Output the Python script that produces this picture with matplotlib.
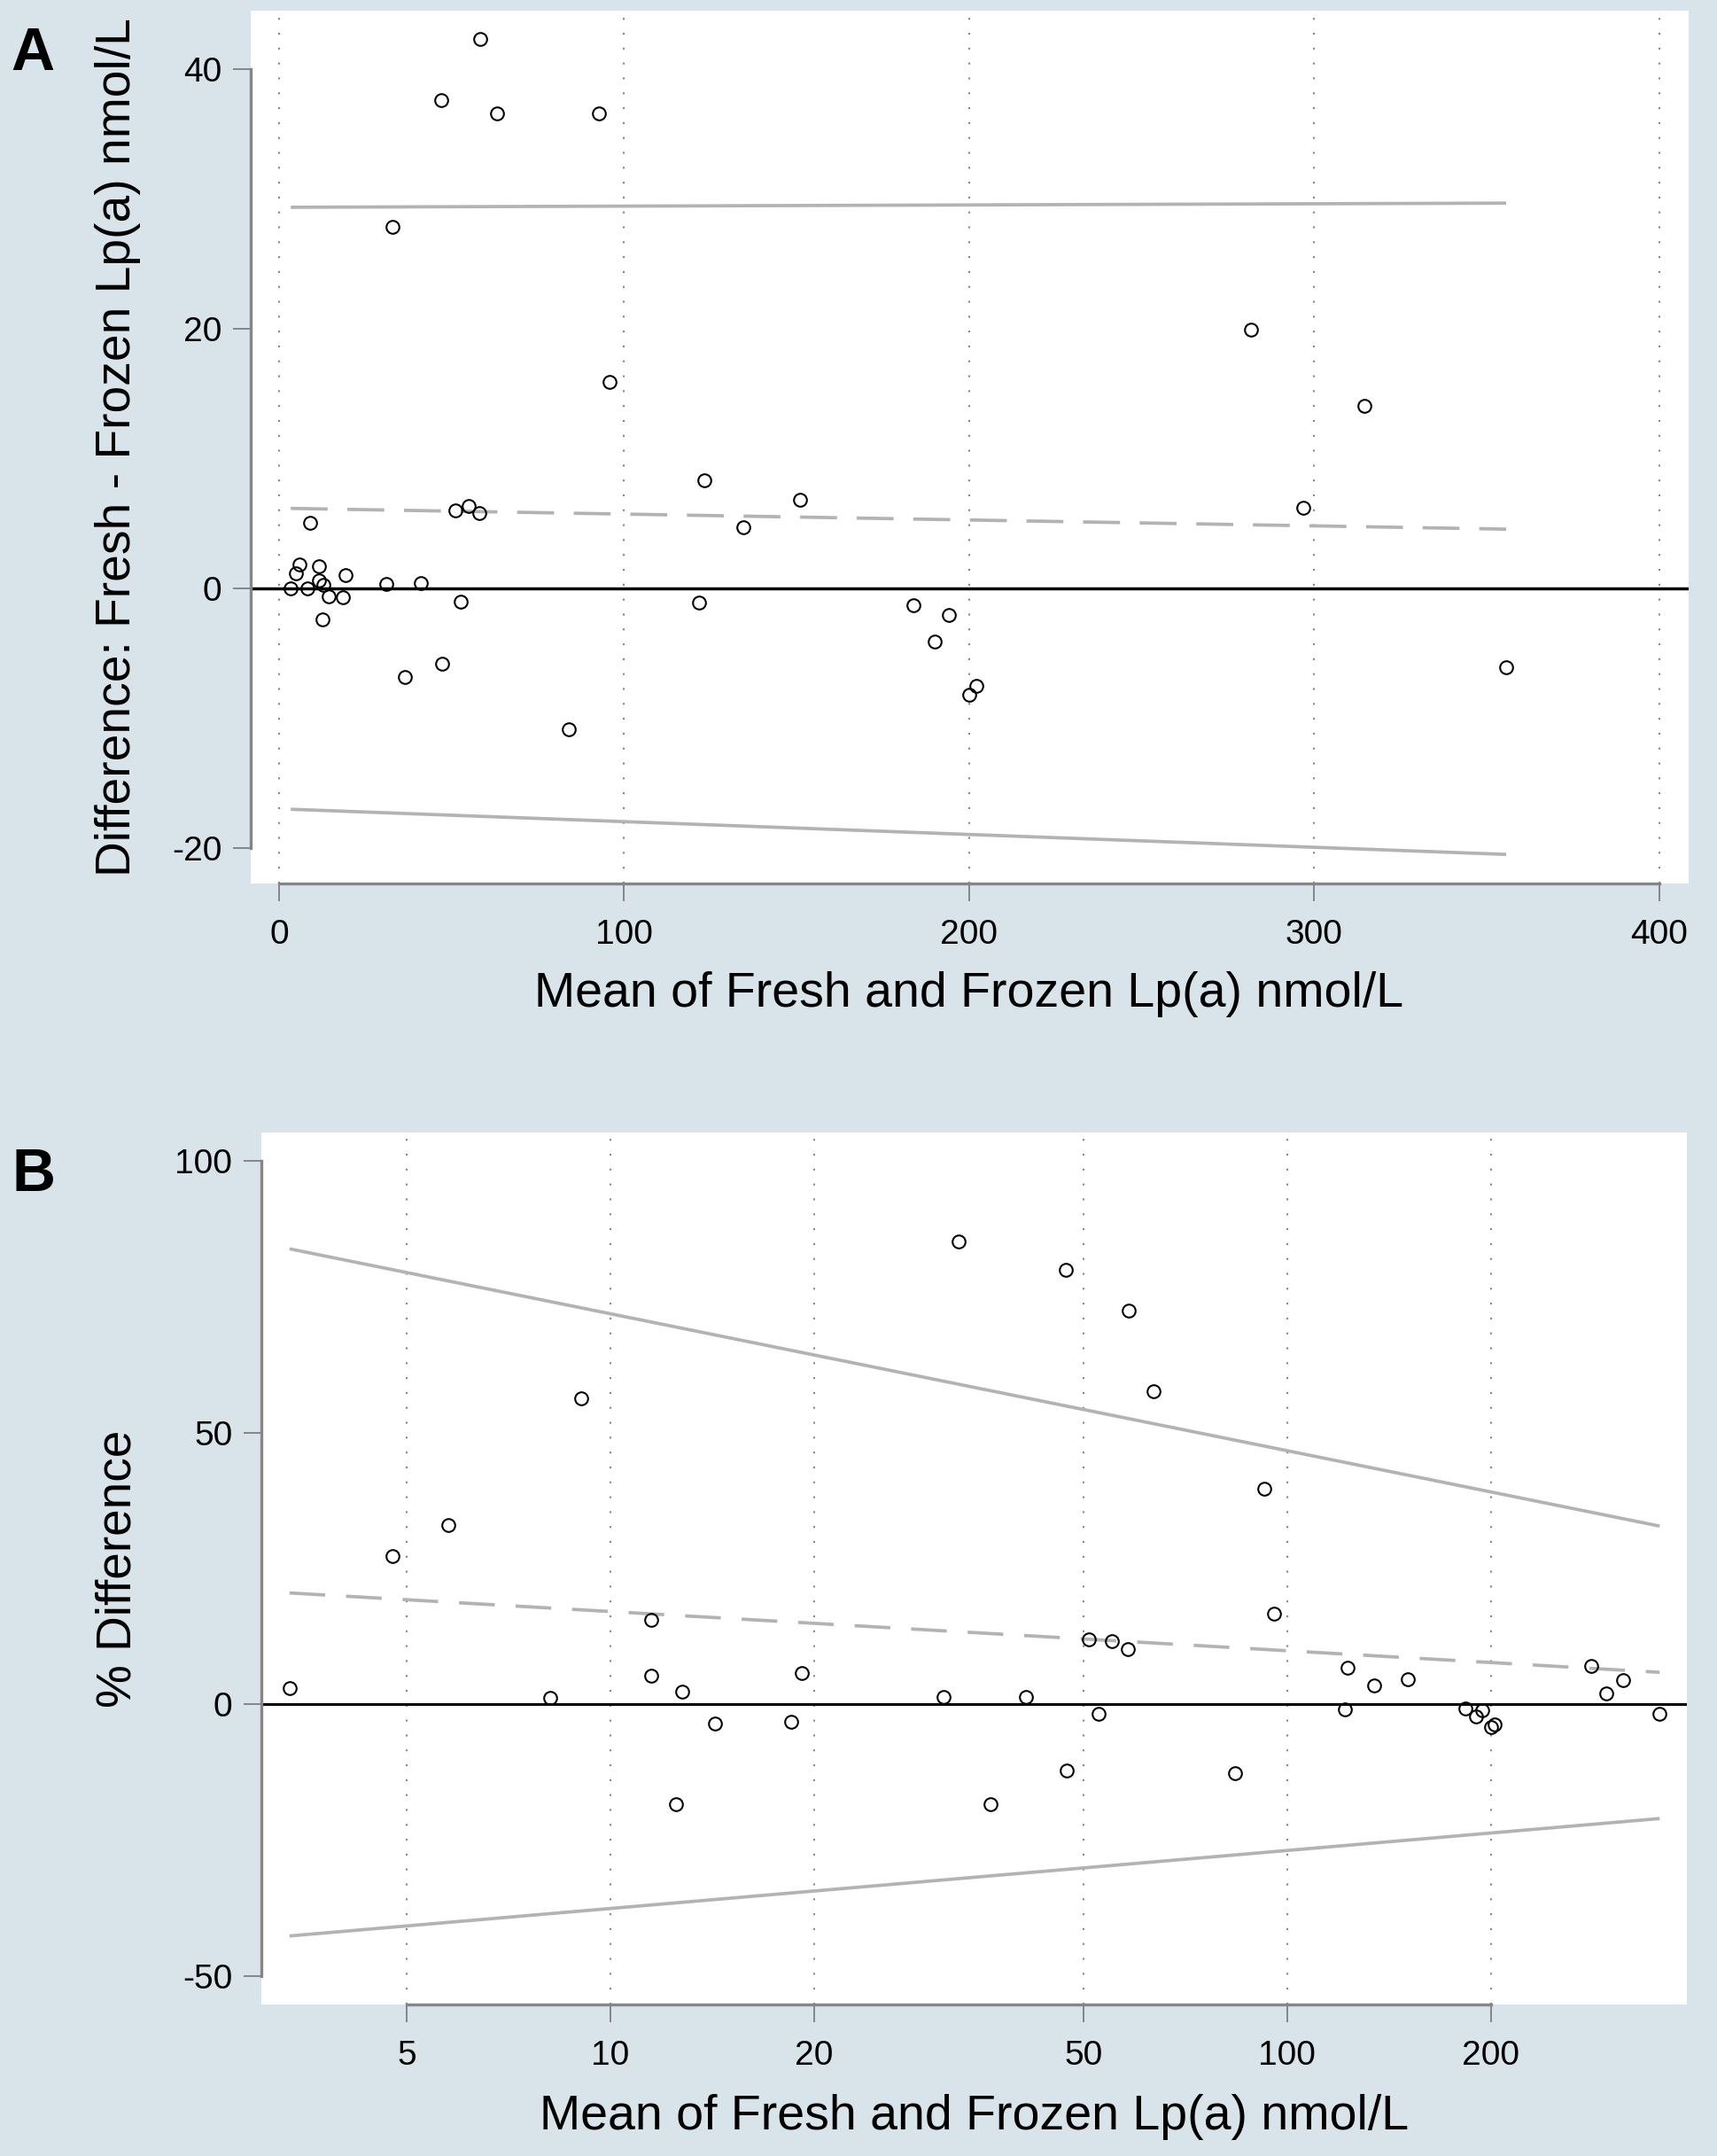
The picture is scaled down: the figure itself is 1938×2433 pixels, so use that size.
import matplotlib
matplotlib.use("Agg")
import matplotlib.pyplot as plt
from matplotlib.ticker import NullLocator, FixedLocator, FixedFormatter

plt.rcParams['font.family'] = ['Liberation Sans', 'DejaVu Sans']
plt.rcParams['lines.scale_dashes'] = False
plt.rcParams['axes.unicode_minus'] = False

# ---------------- Data: panel A (Bland-Altman, absolute difference) ----------------
mean_a = [58.4, 47.1, 63.3, 92.7, 32.9, 95.7,
          123.2, 150.9, 134.5, 121.7, 51.0, 55.0, 58.1, 9.0, 5.8, 4.8, 11.5, 3.4, 8.2,
          11.5, 12.8, 14.3, 18.5, 19.2, 12.5, 31.1, 41.2, 52.6, 36.4, 47.2, 83.9,
          281.7, 314.6, 296.7, 183.8, 194.2, 190.0, 202.1, 200.0, 355.6]
diff_a = [42.3, 37.6, 36.6, 36.6, 27.85, 15.9,
          8.31, 6.83, 4.69, -1.12, 5.99, 6.31, 5.78, 5.01, 1.82, 1.18, 1.71, 0.0, 0.0,
          0.57, 0.23, -0.64, -0.71, 1.0, -2.41, 0.32, 0.41, -1.02, -6.83, -5.83, -10.84,
          19.95, 14.04, 6.23, -1.30, -2.09, -4.11, -7.52, -8.22, -6.12]
line_x_a = [3.4, 355.6]
upper_a = [29.35, 29.67]
bias_a = [6.15, 4.55]
lower_a = [-17.03, -20.51]
xticks_a = [0, 100, 200, 300, 400]
yticks_a = [-20, 0, 20, 40]

# ---------------- Data: panel B (% difference, log x) ----------------
mean_b = [3.355, 4.76, 5.76, 9.06, 8.15, 11.5, 11.5, 12.76, 12.48, 14.26, 18.52, 19.18,
          31.1, 32.7, 47.05, 58.3, 63.5, 92.5, 95.7, 50.9, 55.1, 58.1, 41.1, 52.6,
          36.4, 47.2, 83.8, 123.0, 121.7, 134.4, 150.8, 183.6, 190.0, 194.1, 200.0,
          202.4, 281.5, 296.7, 314.2, 355.3]
pct_b = [3.0, 27.3, 33.0, 56.3, 1.2, 15.6, 5.25, 2.35, -18.4, -3.55, -3.28, 5.7,
         1.3, 85.1, 80.0, 72.5, 57.6, 39.6, 16.75, 11.9, 11.7, 10.1, 1.3, -1.7,
         -18.4, -12.1, -12.7, 6.8, -0.85, 3.55, 4.58, -0.75, -2.15, -1.12, -4.1,
         -3.65, 7.1, 2.07, 4.5, -1.68]
line_x_b = [3.355, 355.3]
upper_b = [83.8, 32.8]
bias_b = [20.5, 5.9]
lower_b = [-42.6, -21.0]
xticks_b = [5, 10, 20, 50, 100, 200]
xticklabels_b = ['5', '10', '20', '50', '100', '200']
yticks_b = [-50, 0, 50, 100]

xlabel = 'Mean of Fresh and Frozen Lp(a) nmol/L'
ylabel_a = 'Difference: Fresh - Frozen Lp(a) nmol/L'
ylabel_b = '% Difference'

# ---------------- Style ----------------
W, H = 1938, 2433
BG = '#d8e4ea'
AXC = '#858585'
LOA = '#b3b3b3'
GRID = '#858585'

fig = plt.figure(figsize=(W / 100, H / 100), dpi=100, facecolor=BG)

axA = fig.add_axes([283 / W, 1 - 997 / H, (1906 - 283) / W, (997 - 12) / H])
axB = fig.add_axes([295 / W, 1 - 2262 / H, (1904 - 295) / W, (2262 - 1278) / H])


def style(ax, xpad):
    ax.set_facecolor('white')
    for s in ['top', 'right']:
        ax.spines[s].set_visible(False)
    for s in ['left', 'bottom']:
        ax.spines[s].set_color(AXC)
        ax.spines[s].set_linewidth(2.4)
    ax.tick_params(axis='both', which='major', length=14.5, width=1.4, color=AXC,
                   labelsize=28, labelcolor='black')
    ax.tick_params(axis='x', pad=xpad)
    ax.tick_params(axis='y', pad=9)
    ax.grid(axis='x', linestyle=(0, (1.5, 10.6)), color=GRID, linewidth=1.5)
    ax.grid(axis='y', visible=False)
    ax.set_axisbelow(True)


# ---- Panel A ----
style(axA, 14)
axA.set_xlim(-8.2, 408.5)
axA.set_ylim(-22.75, 44.5)
axA.set_xticks(xticks_a)
axA.set_yticks(yticks_a)
axA.spines['bottom'].set_bounds(xticks_a[0], xticks_a[-1])
axA.spines['left'].set_bounds(yticks_a[0], yticks_a[-1])
axA.axhline(0, color='black', lw=2.5, zorder=2)
axA.plot(line_x_a, upper_a, color=LOA, lw=2.7, zorder=2, solid_capstyle='butt')
axA.plot(line_x_a, lower_a, color=LOA, lw=2.7, zorder=2, solid_capstyle='butt')
axA.plot(line_x_a, bias_a, color=LOA, lw=2.7, zorder=2, linestyle=(0, (30, 16)),
         dash_capstyle='butt')
axA.plot(mean_a, diff_a, linestyle='none', marker='o', mfc='none', mec='black',
         ms=10.5, mew=1.5, zorder=3)

# ---- Panel B ----
style(axB, 14)
axB.set_xscale('log')
axB.set_xlim(3.048, 389.8)
axB.set_ylim(-55.2, 105.2)
axB.xaxis.set_major_locator(FixedLocator(xticks_b))
axB.xaxis.set_major_formatter(FixedFormatter(xticklabels_b))
axB.xaxis.set_minor_locator(NullLocator())
axB.set_yticks(yticks_b)
axB.spines['bottom'].set_bounds(xticks_b[0], xticks_b[-1])
axB.spines['left'].set_bounds(yticks_b[0], yticks_b[-1])
axB.axhline(0, color='black', lw=2.2, zorder=2)
axB.plot(line_x_b, upper_b, color=LOA, lw=2.7, zorder=2, solid_capstyle='butt')
axB.plot(line_x_b, lower_b, color=LOA, lw=2.7, zorder=2, solid_capstyle='butt')
axB.plot(line_x_b, bias_b, color=LOA, lw=2.7, zorder=2, linestyle=(0, (29, 17)),
         dash_capstyle='butt')
axB.plot(mean_b, pct_b, linestyle='none', marker='o', mfc='none', mec='black',
         ms=10.5, mew=1.5, zorder=3)

# ---- Texts ----
fig.text(12 / W, 1 - 79 / H, 'A', ha='left', va='baseline', fontsize=49, fontweight='bold')
fig.text(14 / W, 1 - 1344 / H, 'B', ha='left', va='baseline', fontsize=49, fontweight='bold')
fig.text(1094 / W, 1 - 1136 / H, xlabel, ha='center', va='baseline', fontsize=40)
fig.text(1100 / W, 1 - 2403 / H, xlabel, ha='center', va='baseline', fontsize=40)
fig.text(147 / W, 1 - 504.5 / H, ylabel_a, rotation=90, rotation_mode='anchor',
         ha='center', va='baseline', fontsize=39.7)
fig.text(148 / W, 1 - 1770 / H, ylabel_b, rotation=90, rotation_mode='anchor',
         ha='center', va='baseline', fontsize=39.5)

fig.savefig('out.png', dpi=100, facecolor=BG)
